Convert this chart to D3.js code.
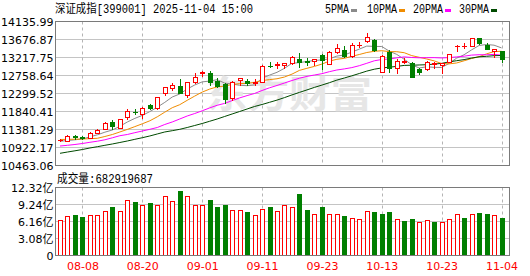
<!DOCTYPE html>
<html><head><meta charset="utf-8">
<script src="https://cdn.jsdelivr.net/npm/d3@7"></script>
<style>body{margin:0;background:#fff}svg{display:block}</style>
</head><body>
<svg id="c" width="530" height="276"></svg>
<script>
const dates = ["08-05","08-06","08-07","08-08","08-11","08-12","08-13","08-14","08-15","08-18","08-19","08-20","08-21","08-22","08-25","08-26","08-27","08-28","08-29","09-01","09-02","09-03","09-04","09-05","09-08","09-09","09-10","09-11","09-12","09-15","09-16","09-17","09-18","09-19","09-22","09-23","09-24","09-25","09-26","09-29","09-30","10-09","10-10","10-13","10-14","10-15","10-16","10-17","10-20","10-21","10-22","10-23","10-24","10-27","10-28","10-29","10-30","10-31","11-03","11-04"];
const opens  = [11100.8,11095.7,11215.6,11182.4,11172.2,11299.8,11386.5,11580.3,11427.3,11700.2,11835.4,11769.1,12006.3,11917.0,12312.3,12432.2,12498.5,12261.3,12600.6,12814.8,12814.8,12618.4,12534.2,12177.2,12643.9,12626.1,12575.1,12600.6,13008.7,13026.5,13034.2,13069.9,13171.9,13136.2,13128.5,13281.6,13052.0,13365.7,13409.1,13263.7,13529.0,13646.3,13664.2,12855.6,13365.7,12957.6,13103.0,13085.2,12916.8,12916.8,13044.4,13020.0,13110.7,13503.5,13503.5,13518.8,13707.5,13536.6,13391.2,13383.6];
const highs  = [11131.4,11228.3,11248.7,11207.9,11317.6,11386.5,11559.9,11631.3,11649.2,11911.9,11911.9,11947.6,12024.1,12210.3,12473.0,12559.8,12661.8,12592.9,12814.8,12860.7,12881.1,12687.3,12575.1,12626.1,12694.9,12677.1,12661.8,13013.8,13095.4,13110.7,13077.5,13243.3,13340.2,13197.4,13179.5,13294.3,13370.8,13562.1,13511.1,13580.0,13605.5,13835.1,13677.0,13268.8,13409.1,13171.9,13197.4,13103.0,12942.3,13136.2,13110.7,13080.0,13307.1,13536.6,13595.3,13715.2,13715.2,13580.0,13434.6,13396.3];
const lows   = [11075.3,11088.1,11146.7,11146.7,11151.8,11292.1,11381.4,11401.8,11419.6,11641.5,11784.4,11682.3,11911.9,11904.2,12261.3,12388.9,12312.3,12202.7,12559.8,12745.9,12516.4,12473.0,12049.6,12133.8,12516.4,12508.7,12516.4,12592.9,12983.1,12957.6,12942.3,13052.0,12967.8,13026.5,13026.5,12916.8,13039.3,13324.9,13238.2,13238.2,13478.0,13620.8,13391.2,12848.0,12855.6,12830.1,13069.9,12707.7,12797.0,12899.0,12942.3,12830.1,13103.0,13391.2,13452.5,13511.1,13562.1,13421.9,13222.9,13110.7];
const closes = [11113.6,11207.9,11190.1,11169.7,11299.8,11361.0,11547.2,11463.0,11641.5,11845.6,11820.1,11937.4,11934.9,12197.6,12457.7,12508.7,12320.0,12585.3,12712.8,12855.6,12600.6,12498.5,12151.7,12600.6,12687.3,12559.8,12600.6,13008.7,12988.3,13044.4,13069.9,13238.2,13103.0,13095.0,13171.9,13154.0,13365.7,13452.5,13263.7,13536.6,13544.3,13748.3,13409.1,13256.1,12942.3,13128.5,13120.9,12712.8,12840.3,13095.4,13070.0,13075.0,13299.4,13518.8,13516.0,13707.5,13580.0,13427.0,13430.0,13171.9];
const volumes = [652000000,707000000,725000000,690000000,725000000,725000000,815000000,887000000,815000000,1014000000,966000000,906000000,948000000,906000000,1087000000,996000000,1160000000,1087000000,924000000,924000000,1014000000,870000000,924000000,833000000,833000000,785000000,725000000,850000000,887000000,815000000,906000000,870000000,1110000000,833000000,743000000,870000000,743000000,760000000,707000000,688000000,670000000,815000000,797000000,760000000,797000000,670000000,634000000,670000000,598000000,652000000,598000000,616000000,670000000,743000000,688000000,743000000,779000000,760000000,725000000,682919687];
const ma5  = [11080,11101,11119,11139,11195,11246,11313,11369,11463,11573,11665,11741,11838,11950,12073,12210,12287,12414,12516,12596,12616,12652,12565,12542,12509,12499,12519,12692,12769,12840,12942,13070,13088,13116,13141,13157,13182,13254,13282,13356,13432,13509,13501,13498,13381,13297,13172,13032,12950,12981,12967,12964,13067,13201,13288,13412,13524,13549,13532,13463];
const ma10 = [11126,11131,11134,11139,11147,11157,11203,11254,11318,11384,11455,11527,11603,11705,11823,11937,12014,12126,12233,12335,12412,12468,12488,12529,12552,12557,12585,12629,12654,12675,12720,12794,12889,12942,12991,13050,13126,13172,13197,13248,13294,13345,13376,13391,13368,13366,13340,13266,13223,13180,13132,13064,13055,13078,13134,13192,13238,13310,13368,13376];
const ma20 = [10960,10978,10999,11024,11055,11083,11119,11170,11223,11254,11300,11343,11386,11432,11509,11573,11649,11726,11789,11858,11932,11999,12047,12118,12187,12246,12300,12376,12445,12504,12567,12631,12690,12736,12771,12805,12856,12899,12927,12960,13009,13070,13134,13167,13180,13208,13233,13218,13210,13213,13214,13206,13215,13233,13251,13279,13289,13287,13297,13277];
const ma30 = [10774,10807,10838,10871,10910,10943,10978,11012,11050,11088,11131,11172,11216,11267,11318,11351,11386,11432,11483,11534,11591,11649,11713,11777,11840,11904,11968,12019,12075,12131,12195,12264,12328,12391,12455,12514,12575,12641,12695,12751,12810,12871,12919,12952,12970,12991,13016,13021,13027,13034,13049,13068,13106,13136,13164,13203,13236,13248,13264,13269];
const priceTicks = [14135.99,13676.87,13217.75,12758.64,12299.52,11840.41,11381.29,10922.17,10463.06];
const volTicks = [0,308000000,616000000,924000000,1232000000];
const volTickLabels = ["0","3.08亿","6.16亿","9.24亿","12.32亿"];
const xTickDates = ["08-08","08-20","09-01","09-11","09-23","10-13","10-23","11-04"];
const titleText = "深证成指[399001] 2025-11-04 15:00";
const volTitleText = "成交量:682919687";
const legendNames = ["5PMA","10PMA","20PMA","30PMA"];
const maColors = ["#8a8a8a","#f08c00","#ff00ff","#004a00"];
const watermarkText = "东方财富";

const UP = "#ff0000", DOWN = "#007f00";
const svg = d3.select("#c");
const L = 55.5, R = 509.5, T = 21.5, B = 165.5, VT = 187.5, VB = 255.5;
const x = d3.scalePoint().domain(dates).range([60, 501.5]);
const y = d3.scaleLinear().domain([10463.06, 14135.99]).range([B, T]);
const yv = d3.scaleLinear().domain([0, 1232000000]).range([VB, VT]);
const px = d => Math.round(x(d));
const crisp = v => Math.floor(v) + 0.5;

// horizontal grid
svg.append("g").selectAll("line").data(priceTicks).join("line")
  .attr("x1", L).attr("x2", R).attr("y1", d => crisp(y(d))).attr("y2", d => crisp(y(d)))
  .attr("stroke", "#c4c4c4");
svg.append("g").selectAll("line").data(volTicks).join("line")
  .attr("x1", L).attr("x2", R).attr("y1", d => crisp(yv(d))).attr("y2", d => crisp(yv(d)))
  .attr("stroke", "#c4c4c4");
// vertical dashed grid
[[T, B], [VT, VB]].forEach(([a, b]) => {
  svg.append("g").selectAll("line").data(xTickDates).join("line")
    .attr("x1", d => px(d) + 0.5).attr("x2", d => px(d) + 0.5)
    .attr("y1", a).attr("y2", b)
    .attr("stroke", "#b4b4b4").attr("stroke-dasharray", "3,3");
});

// watermark
svg.append("text").attr("x", 206).attr("y", 108).text(watermarkText)
  .attr("font-family", "Noto Sans CJK SC").attr("font-weight", "bold").attr("font-size", 37)
  .attr("textLength", 166).attr("lengthAdjust", "spacingAndGlyphs")
  .attr("fill", "#e6e6e6");

// MA lines
[ma5, ma10, ma20, ma30].forEach((arr, k) => {
  const line = d3.line().x((d, i) => x(dates[i])).y(d => y(d));
  svg.append("path").attr("d", line(arr)).attr("fill", "none")
    .attr("stroke", maColors[k]).attr("stroke-width", 1);
});

// candles
const cg = svg.append("g");
dates.forEach((d, i) => {
  const cx = px(d), o = opens[i], c = closes[i], up = c >= o;
  const col = up ? UP : DOWN;
  const yo = Math.round(y(o)), yc = Math.round(y(c));
  const top = Math.min(yo, yc), bot = Math.max(yo, yc);
  cg.append("line").attr("x1", cx + 0.5).attr("x2", cx + 0.5)
    .attr("y1", Math.round(y(highs[i]))).attr("y2", Math.round(y(lows[i])) + 1)
    .attr("stroke", col);
  if (up) {
    if (bot - top < 1) {
      cg.append("rect").attr("x", cx - 2).attr("y", top).attr("width", 5).attr("height", 1).attr("fill", col);
    } else {
      cg.append("rect").attr("x", cx - 1.5).attr("y", top + 0.5).attr("width", 4).attr("height", bot - top)
        .attr("fill", "#fff").attr("stroke", col);
    }
  } else {
    cg.append("rect").attr("x", cx - 2).attr("y", top).attr("width", 5).attr("height", Math.max(1, bot - top + 1))
      .attr("fill", col);
  }
});

// volume bars (colour by change vs previous close)
const vg = svg.append("g");
dates.forEach((d, i) => {
  const cx = px(d);
  const up = i === 0 ? closes[i] >= opens[i] : closes[i] >= closes[i - 1];
  const top = Math.round(yv(volumes[i]));
  if (up) {
    vg.append("rect").attr("x", cx - 1.5).attr("y", top + 0.5).attr("width", 4).attr("height", 255 - top)
      .attr("fill", "#fff").attr("stroke", UP);
  } else {
    vg.append("rect").attr("x", cx - 2).attr("y", top).attr("width", 5).attr("height", 256 - top)
      .attr("fill", DOWN);
  }
});

// frames
svg.append("rect").attr("x", L).attr("y", T).attr("width", R - L).attr("height", B - T)
  .attr("fill", "none").attr("stroke", "#7a7a7a");
svg.append("rect").attr("x", L).attr("y", VT).attr("width", R - L).attr("height", VB - VT)
  .attr("fill", "none").attr("stroke", "#7a7a7a");

// axes
const yAxis = svg.append("g").attr("transform", `translate(${L},0)`)
  .call(d3.axisLeft(y).tickValues(priceTicks).tickFormat(d3.format(".2f")).tickSize(0).tickPadding(2));
const vAxis = svg.append("g").attr("transform", `translate(${L},0)`)
  .call(d3.axisLeft(yv).tickValues(volTicks).tickFormat((d, i) => volTickLabels[i]).tickSize(0).tickPadding(2));
const xAxis = svg.append("g").attr("transform", `translate(0,${VB})`)
  .call(d3.axisBottom(x).tickValues(xTickDates).tickSize(0).tickPadding(7));
[yAxis, vAxis, xAxis].forEach(a => {
  a.select(".domain").remove();
  a.selectAll("text").attr("font-family", "DejaVu Sans, Noto Sans CJK SC").attr("font-size", 11).attr("fill", "#000");
});
xAxis.selectAll("text").attr("fill", "#ff0000");

// titles
svg.append("text").attr("x", 55).attr("y", 13).text(titleText)
  .attr("font-family", "Liberation Mono, Noto Sans CJK SC").attr("font-size", 12)
  .attr("textLength", 198).attr("lengthAdjust", "spacingAndGlyphs").attr("fill", "#000");
svg.append("text").attr("x", 57).attr("y", 183).text(volTitleText)
  .attr("font-family", "Liberation Mono, Noto Sans CJK SC").attr("font-size", 12)
  .attr("textLength", 96).attr("lengthAdjust", "spacingAndGlyphs").attr("fill", "#000");

// legend
const legX = [325, 367, 413, 459];
legendNames.forEach((n, k) => {
  const w = n.length * 6;
  svg.append("text").attr("x", legX[k]).attr("y", 13).text(n)
    .attr("font-family", "Liberation Mono").attr("font-size", 12)
    .attr("textLength", w).attr("lengthAdjust", "spacingAndGlyphs").attr("fill", "#000");
  svg.append("rect").attr("x", legX[k] + w + 2).attr("y", 9).attr("width", 6).attr("height", 3)
    .attr("fill", maColors[k]);
});
</script>
</body></html>
